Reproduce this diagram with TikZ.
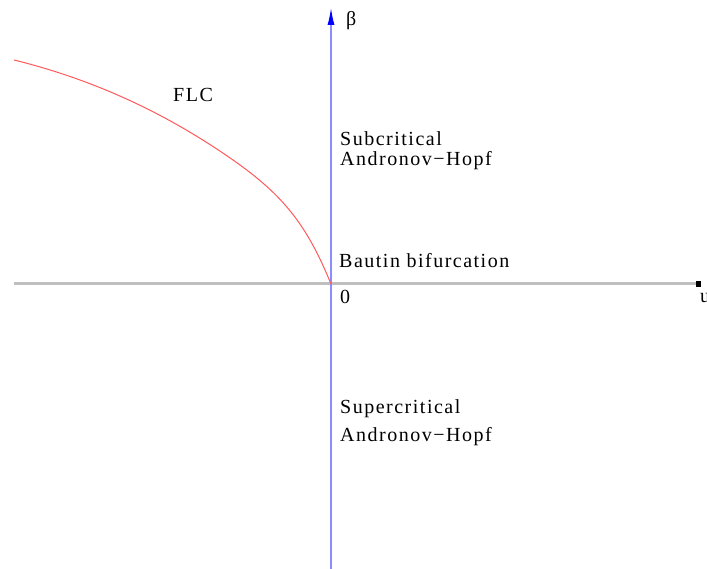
\documentclass[tikz,border=0pt]{standalone}
\usepackage{fontspec}
\setmainfont{Liberation Serif}[LetterSpace=7.5]
\usetikzlibrary{arrows.meta}
\begin{document}
\begin{tikzpicture}[x=1pt,y=-1pt,
  lbl/.style={anchor=base west,inner sep=0pt,font=\fontsize{20}{22}\selectfont},
  haxis/.style={line width=3pt,black!25},
  vaxis/.style={line width=1.2pt,blue!45},
  flc/.style={line width=1pt,red!65}]
\useasboundingbox (0,0) rectangle (707,569);
% axes
\coordinate (hl) at (14,284);
\coordinate (hr) at (699,284);
\coordinate (vb) at (331,569);
\coordinate (vt) at (331,8);
\coordinate (o) at (331,284);
\coordinate (fl) at (14,60);
\coordinate (fm) at (233,160);
\draw[haxis] (hl) -- (hr);
\fill[black] (hr) ++(-3,-2.8) rectangle ++(5,5.6);
\draw[vaxis,-{Latex[length=17pt,width=7pt,blue]}] (vb) -- (vt);
% FLC curve
\draw[flc] (fl) .. controls (87,78) and (160,109) .. (fm)
  .. controls (283,195) and (306.8,224.6) .. (o);
% labels
\node[lbl] (beta) at (346,26) {β};
\node[lbl] (u) at (700,303) {u};
\node[lbl] (zero) at (340,304) {0};
\node[lbl] (flclbl) at (173,102) {FLC};
\node[lbl] (sub1) at (340,146) {Subcritical};
\node[lbl] (sub2) at (340,166) {Andronov−Hopf};
\node[lbl] (bautin) at (339,268) {Bautin bifurcation};
\node[lbl] (sup1) at (340,413) {Supercritical};
\node[lbl] (sup2) at (340,441) {Andronov−Hopf};
\end{tikzpicture}
\end{document}
